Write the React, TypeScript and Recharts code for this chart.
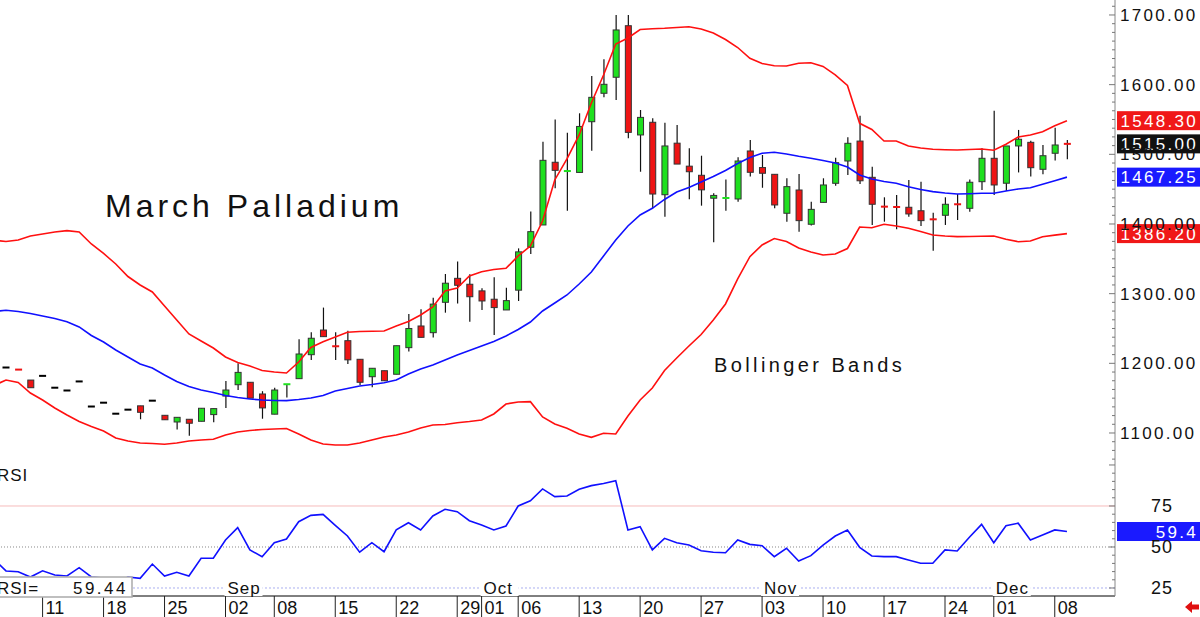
import React from "react";
import {
  Bar,
  ComposedChart,
  Line,
  ReferenceDot,
  ReferenceLine,
  Scatter,
  XAxis,
  YAxis,
} from "recharts";

// daily bars, 6 Aug .. 9 Dec
const opens = [
  1194, 1191.3, 1176, 1182, 1165, 1161, 1174, 1138, 1143.5, 1127.7,
  1133.5, 1139, 1146.4, 1125.4, 1115.8, 1119.7, 1116.8, 1126.4, 1153, 1169.3,
  1172.8, 1156, 1127, 1169.5, 1178, 1212.4, 1247.8, 1225, 1232.5, 1205.8,
  1180.8, 1189.4, 1184.3, 1222.5, 1253.6, 1244, 1287.6, 1322, 1313.5, 1304,
  1292, 1276.6, 1305, 1366.6, 1398.6, 1488.6, 1475.5, 1474, 1546.8, 1587.6,
  1610.6, 1684.6, 1527.8, 1546, 1442, 1516, 1483, 1469.9, 1437, 1437,
  1435.9, 1504.8, 1481, 1471.3, 1415.4, 1448.8, 1399.6, 1431, 1458.4, 1490.4,
  1519, 1467, 1425.3, 1424.8, 1424, 1419, 1407, 1412.5, 1428.6, 1422.5,
  1460.7, 1494.3, 1458.5, 1512, 1517.2, 1478.5, 1501.5, 1515.3,
];
const highs = [
  1194, 1191.3, 1176, 1182, 1165, 1161, 1174, 1138, 1143.5, 1127.7,
  1133.5, 1139, 1146.4, 1125.4, 1122.5, 1119.7, 1135.5, 1135, 1174.6, 1200,
  1172.8, 1160, 1165, 1170, 1234.5, 1244.6, 1280, 1244.6, 1246.8, 1205.8,
  1192.9, 1189.4, 1225.3, 1270.8, 1277.5, 1294, 1328.2, 1346, 1328, 1307.7,
  1323.5, 1308.6, 1365, 1418, 1518, 1550, 1531, 1558.9, 1612.4, 1636.4,
  1700, 1700, 1563.6, 1551.7, 1545.4, 1542, 1508.7, 1498, 1444, 1464,
  1495.7, 1520.6, 1499, 1471.3, 1465.6, 1471.8, 1432, 1465.6, 1495, 1524.4,
  1555.5, 1482.3, 1438.3, 1441.6, 1463, 1460.7, 1416, 1438.3, 1443, 1464,
  1508.7, 1562.6, 1512, 1535, 1519.6, 1513.4, 1538.3, 1520.6,
];
const lows = [
  1194, 1191, 1165, 1182, 1165, 1161, 1174, 1138, 1143.5, 1127.7,
  1133.5, 1119.7, 1146.4, 1119, 1105, 1096, 1116.8, 1115.3, 1136, 1161.7,
  1150, 1120.5, 1127, 1151, 1178, 1204.8, 1238.3, 1204.8, 1199, 1169,
  1165.6, 1175, 1184.3, 1217, 1237, 1237, 1272.7, 1286, 1259.8, 1276.7,
  1240.7, 1276.6, 1289.5, 1357, 1398.6, 1451.2, 1419, 1474, 1505, 1582,
  1578, 1523, 1475, 1422.5, 1410.5, 1486, 1435.4, 1426.3, 1373.7, 1419,
  1432, 1468, 1452, 1422.5, 1403.3, 1389, 1398, 1431, 1455, 1470.3,
  1457.4, 1398.6, 1403.3, 1392.4, 1410.5, 1397, 1361.7, 1398.6, 1405.8, 1417.6,
  1448.8, 1441.6, 1447.4, 1474, 1468, 1471.3, 1491, 1493,
];
const closes = [
  1194, 1191, 1165, 1182, 1165, 1161, 1174, 1138, 1143.5, 1127.7,
  1133.5, 1129.7, 1146.4, 1119, 1122.5, 1114, 1135.5, 1135, 1161.7, 1187,
  1150, 1136, 1161.7, 1170, 1213.4, 1236, 1238.3, 1224.5, 1205, 1172.8,
  1192.9, 1175, 1225.3, 1250, 1237.3, 1285, 1315, 1312, 1295.6, 1289.5,
  1280, 1290, 1360, 1389, 1491.4, 1477, 1476, 1540, 1581.8, 1600.5,
  1678.5, 1531.5, 1553, 1443, 1512, 1486, 1475, 1449, 1441, 1437.3,
  1490.4, 1474.2, 1472.8, 1427.3, 1453.6, 1404.8, 1421, 1456, 1488, 1515.8,
  1462, 1428.3, 1424.9, 1424.4, 1414.4, 1404.8, 1406.7, 1428.3, 1428.3, 1459.9,
  1494.3, 1456, 1512, 1521.6, 1480.8, 1498, 1513.4, 1515,
];

// indicator values start one session earlier (5 Aug), whose bar sits off the left edge
const upperBand = [
  1376.5,
  1374.9, 1377, 1382.8, 1385.6, 1388.5, 1390.4, 1388.5, 1371.3, 1357.7, 1342.6,
  1324.6, 1312.4, 1302.4, 1282.3, 1262.2, 1242.1, 1232.1, 1222, 1209.1, 1201.2,
  1196.2, 1189.7, 1187.6, 1186.1, 1201.9, 1222.7, 1231, 1237.8, 1244.5, 1245.7,
  1246, 1246.4, 1253.6, 1260, 1269.4, 1280.9, 1303.8, 1308.1, 1325.4, 1331.5,
  1334.7, 1336.4, 1354.1, 1368.4, 1404.3, 1463.2, 1493.3, 1527.8, 1573.7, 1613.9,
  1658.4, 1667, 1679.2, 1680.3, 1680.9, 1682.1, 1683.1, 1679.9, 1674.2, 1664.8,
  1653.3, 1637.8, 1630.4, 1627.1, 1626.8, 1630.7, 1631.5, 1626.1, 1613.9, 1598.8,
  1544.5, 1535.6, 1519.1, 1519.1, 1512, 1509.1, 1507.2, 1506.6, 1506.2, 1506.9,
  1507.7, 1505.8, 1514.4, 1524.9, 1527.8, 1532.3, 1541, 1548.3,
];
const midBand = [
  1274.5,
  1276.1, 1274.4, 1271.5, 1267.9, 1264.4, 1259.8, 1252.2, 1240, 1230.6, 1219.1,
  1209.1, 1199, 1193.3, 1183.3, 1173.9, 1166.7, 1161.7, 1158.1, 1153.8, 1151,
  1148.8, 1147.4, 1146.7, 1146.4, 1148.1, 1150.2, 1153.8, 1160.3, 1163.9, 1167.5,
  1169.6, 1172.2, 1176.1, 1184.7, 1191.9, 1197.6, 1204.8, 1212, 1218.4, 1224.9,
  1231.3, 1239.2, 1248.6, 1259.3, 1275.1, 1286.6, 1298.1, 1313.9, 1331.1, 1354.1,
  1377, 1397.1, 1412.9, 1422.5, 1435.2, 1445.9, 1452.4, 1460.3, 1468.2, 1476.8,
  1486.8, 1495.5, 1501.5, 1502.9, 1500.5, 1497.2, 1494.3, 1491.1, 1487.6, 1481.8,
  1470.3, 1464.6, 1461, 1458.4, 1453.5, 1449.5, 1446.4, 1444.5, 1443.1, 1443.5,
  1444.1, 1444.1, 1447.4, 1450.2, 1452.1, 1457, 1462, 1467.25,
];
const lowerBand = [
  1168,
  1176.1, 1172.5, 1157.4, 1147.4, 1135.9, 1125.8, 1116.5, 1109.3, 1102.9, 1092.8,
  1088.5, 1085.6, 1084.9, 1083.8, 1085.6, 1088.5, 1090, 1091, 1097.1, 1101.4,
  1103.6, 1105, 1105.7, 1106.5, 1098.6, 1090, 1084.2, 1082.8, 1082.8, 1085.6,
  1090, 1094.3, 1097.1, 1101.4, 1107.2, 1111.5, 1112.2, 1114.8, 1116.5, 1118.7,
  1127.3, 1141.6, 1144.5, 1145, 1123, 1112.9, 1106.7, 1098.6, 1093.8, 1099.6,
  1098.6, 1124.4, 1147.4, 1164.6, 1189.7, 1207.7, 1224.9, 1241.4, 1262.2, 1285.2,
  1321.1, 1353.1, 1369.9, 1379.2, 1374.9, 1365.6, 1359.8, 1355.5, 1356.9, 1364.8,
  1395.7, 1394.7, 1399.6, 1397.1, 1393.8, 1389.2, 1384.2, 1382.8, 1381.8, 1382.1,
  1382.5, 1382.8, 1378, 1374.6, 1375.6, 1381.8, 1384, 1386.2,
];
const rsiValues = [
  42.5,
  35.4, 34.9, 31.7, 35.5, 32.9, 32.3, 37.4, 31.7, 31.1, 28,
  31.7, 30.9, 39.6, 32.3, 34.6, 32.3, 43.1, 43.1, 54.3, 61.8,
  48.2, 44.1, 52.6, 54.9, 65.4, 69.3, 69.9, 63.2, 56.7, 46.8,
  52.6, 47.1, 60.4, 64.8, 60.4, 68.9, 73, 71.5, 66, 63.4,
  60.4, 62.8, 75, 78.2, 85.4, 80.7, 81.1, 85.2, 87.4, 88.7,
  90.4, 60.4, 62.4, 48.2, 55.3, 52.6, 51.2, 47.7, 46.8, 46.5,
  54.3, 51.6, 50.8, 44.1, 49.2, 41.5, 44.7, 51.2, 56.7, 60.4,
  49.8, 44.5, 44.1, 44.1, 42.1, 40.1, 40.1, 48.2, 47.6, 55.9,
  63.8, 52.6, 63, 64.5, 54.3, 57.3, 60.4, 59.44,
];

const weekTickIdx = [3, 8, 13, 18, 22, 27, 32, 37, 39, 42, 47, 52, 57, 62, 67, 72, 77, 81, 86];
const weekTickLabels = ["11", "18", "25", "02", "08", "15", "22", "29", "01", "06", "13", "20", "27", "03", "10", "17", "24", "01", "08"];
const monthIdx = [18, 39, 62, 81];
const monthLabels = ["Sep", "Oct", "Nov", "Dec"];
const priceLabels = [1100, 1200, 1300, 1400, 1500, 1600, 1700];
const rsiLabels = [25, 50, 75];

const rows = upperBand.map((up, k) => {
  const j = k - 1;
  return {
    i: j,
    o: opens[j],
    h: highs[j],
    l: lows[j],
    c: closes[j],
    up,
    mid: midBand[k],
    dn: lowerBand[k],
    rsi: rsiValues[k],
  };
});
const flats = rows.filter((r) => r.h != null && r.h === r.l);
const last = rows[rows.length - 1];

const X_DOMAIN: [number, number] = [-0.492, 90.94];
const GREEN = "#1fe01f";
const RED = "#ee1414";
const FONT = "'Liberation Sans', Arial, sans-serif";

// minor ticks every 12.5 on the price axis, every 5 on the RSI axis
const priceTicks = Array.from({ length: 53 }, (_, k) => 1062.5 + k * 12.5);
const rsiTicks = Array.from({ length: 17 }, (_, k) => 20 + k * 5).filter((v) => v > 20.2);

function tone(o: number, c: number) {
  if (c > o) return GREEN;
  if (c < o) return RED;
  return "#000";
}

function Candle(props: any) {
  const { x, y, width, height, payload } = props;
  if (x == null || !payload || payload.h == null) return null;
  const top = Math.min(y, y + height);
  const bottom = Math.max(y, y + height);
  const span = payload.h - payload.l;
  const at = (v: number) => top + ((payload.h - v) / span) * (bottom - top);
  const cx = x + width / 2;
  const yo = at(payload.o);
  const yc = at(payload.c);
  const color = tone(payload.o, payload.c);
  const bodyTop = Math.min(yo, yc);
  const bodyH = Math.abs(yo - yc);
  return (
    <g>
      <line x1={cx} x2={cx} y1={top} y2={bottom} stroke="#111" strokeWidth={1.2} />
      {bodyH < 2 ? (
        <rect x={x} y={yc - 1} width={width} height={2} fill={color} />
      ) : (
        <rect x={x + 0.5} y={bodyTop} width={width - 1} height={bodyH} fill={color} stroke="#333" />
      )}
    </g>
  );
}

function Flat(props: any) {
  const { cx, cy, payload } = props;
  if (cx == null || cy == null) return null;
  return <rect x={cx - 3.5} y={cy - 1} width={7} height={2} fill={tone(payload.o, payload.c)} />;
}

function PriceTick(props: any) {
  const { x, y, payload } = props;
  const v = payload.value;
  const major = v % 100 === 0;
  return (
    <g>
      <line x1={x - (major ? 6 : 3)} x2={x} y1={y} y2={y} stroke="#777" />
      {major && priceLabels.includes(v) && (
        <text x={x + 5} y={y + 6} fontSize={17} letterSpacing={2.3} fill="#111" fontFamily={FONT}>
          {v.toFixed(2)}
        </text>
      )}
    </g>
  );
}

function RsiTick(props: any) {
  const { x, y, payload } = props;
  const v = payload.value;
  return (
    <g>
      <line x1={x - (v % 25 === 0 ? 6 : 3)} x2={x} y1={y} y2={y} stroke="#777" />
      {rsiLabels.includes(v) && (
        <text x={x + 36} y={y + 6} fontSize={18} letterSpacing={1} fill="#111" fontFamily={FONT}>
          {v}
        </text>
      )}
    </g>
  );
}

function DateTick(props: any) {
  const { x, y, payload } = props;
  const k = weekTickIdx.indexOf(payload.value);
  return (
    <g>
      <line x1={x} x2={x} y1={y} y2={y + 21} stroke="#222" />
      <text x={x + 3} y={y + 18} fontSize={18} fill="#111" fontFamily={FONT}>
        {weekTickLabels[k]}
      </text>
    </g>
  );
}

function ValueBox(props: any) {
  const { viewBox, fill, text } = props;
  if (!viewBox) return null;
  const bx = viewBox.x + viewBox.width + 2;
  return (
    <g>
      <rect x={bx} y={viewBox.y - 9.5} width={85} height={19} fill={fill} />
      <text
        x={1198}
        y={viewBox.y + 6}
        textAnchor="end"
        fontSize={17}
        letterSpacing={2.3}
        fill="#fff"
        fontFamily={FONT}
      >
        {text}
      </text>
    </g>
  );
}

function MonthLabel(props: any) {
  const { cx, cy, label } = props;
  if (cx == null) return null;
  return (
    <g>
      <rect x={cx - 1} y={cy - 8} width={38} height={16} fill="#fff" />
      <text x={cx + 2} y={cy + 6} fontSize={17} letterSpacing={1} fill="#111" fontFamily={FONT}>
        {label}
      </text>
    </g>
  );
}

export default function App() {
  return (
    <div
      style={{
        position: "absolute",
        left: 0,
        top: 0,
        width: 1200,
        height: 617,
        background: "#fff",
        overflow: "hidden",
        fontFamily: FONT,
      }}
    >
      <div style={{ position: "absolute", left: 0, top: 0 }}>
        <ComposedChart width={1200} height={466} data={rows} margin={{ top: 0, right: 0, bottom: 2, left: 0 }}>
          <XAxis
            type="number"
            dataKey="i"
            domain={X_DOMAIN}
            allowDataOverflow
            height={0}
            tick={false}
            tickLine={false}
            axisLine={{ stroke: "#000", strokeWidth: 2 }}
          />
          <YAxis
            orientation="right"
            width={85}
            domain={[1055.5, 1721.5]}
            allowDataOverflow
            ticks={priceTicks}
            interval={0}
            tickSize={0}
            tickMargin={0}
            tickLine={false}
            tick={<PriceTick />}
            axisLine={{ stroke: "#888" }}
          />
          <Bar
            dataKey={(d: any) => (d.h != null && d.h > d.l ? [d.l, d.h] : null)}
            barSize={7}
            shape={<Candle />}
            isAnimationActive={false}
          />
          <Scatter data={flats} dataKey="c" shape={<Flat />} isAnimationActive={false} />
          <Line type="linear" dataKey="up" stroke="#ff1010" strokeWidth={1.6} dot={false} activeDot={false} isAnimationActive={false} />
          <Line type="linear" dataKey="mid" stroke="#1010ff" strokeWidth={1.6} dot={false} activeDot={false} isAnimationActive={false} />
          <Line type="linear" dataKey="dn" stroke="#ff1010" strokeWidth={1.6} dot={false} activeDot={false} isAnimationActive={false} />
          <ReferenceLine y={last.up} stroke="none" label={<ValueBox fill="#f01818" text={last.up.toFixed(2)} />} />
          <ReferenceLine y={last.c} stroke="none" label={<ValueBox fill="#111" text={last.c.toFixed(2)} />} />
          <ReferenceLine y={last.mid} stroke="none" label={<ValueBox fill="#1a1aff" text={last.mid.toFixed(2)} />} />
          <ReferenceLine y={last.dn} stroke="none" label={<ValueBox fill="#f01818" text={last.dn.toFixed(2)} />} />
        </ComposedChart>
      </div>

      <div style={{ position: "absolute", left: 0, top: 464 }}>
        <ComposedChart width={1200} height={153} data={rows} margin={{ top: 0, right: 0, bottom: 0, left: 0 }}>
          <XAxis
            type="number"
            dataKey="i"
            domain={X_DOMAIN}
            allowDataOverflow
            height={21}
            ticks={weekTickIdx}
            interval={0}
            tickSize={0}
            tickMargin={0}
            tickLine={false}
            tick={<DateTick />}
            axisLine={{ stroke: "#000" }}
          />
          <YAxis
            orientation="right"
            width={85}
            domain={[20.12, 100.6]}
            allowDataOverflow
            ticks={rsiTicks}
            interval={0}
            tickSize={0}
            tickMargin={0}
            tickLine={false}
            tick={<RsiTick />}
            axisLine={{ stroke: "#888" }}
          />
          <ReferenceLine y={75} stroke="#f6bcbc" />
          <ReferenceLine y={50} stroke="#888" strokeDasharray="1 2" />
          <ReferenceLine y={25} stroke="#aab0f0" strokeDasharray="2 2" />
          {monthIdx.map((m, k) => (
            <ReferenceDot key={m} x={m} y={25} r={0} shape={<MonthLabel label={monthLabels[k]} />} />
          ))}
          <Line type="linear" dataKey="rsi" stroke="#1010ff" strokeWidth={1.6} dot={false} activeDot={false} isAnimationActive={false} />
          <ReferenceLine
            y={last.rsi}
            stroke="none"
            label={<ValueBox fill="#1a1aff" text={last.rsi.toFixed(1)} />}
          />
        </ComposedChart>
      </div>

      <svg
        width={1200}
        height={617}
        style={{ position: "absolute", left: 0, top: 0, pointerEvents: "none" }}
      >
        <text x={105} y={217} fontSize={32} letterSpacing={4} fill="#111" fontFamily={FONT}>
          March Palladium
        </text>
        <text x={714} y={372} fontSize={20} letterSpacing={3.4} fill="#111" fontFamily={FONT}>
          Bollinger Bands
        </text>
        <text x={-3} y={481} fontSize={17} letterSpacing={1} fill="#111" fontFamily={FONT}>
          RSI
        </text>
        <rect x={-2} y={577} width={134} height={20} fill="#fff" stroke="#aaa" strokeWidth={1.5} />
        <text x={-3} y={594} fontSize={17} letterSpacing={1} fill="#111" fontFamily={FONT}>
          RSI=
        </text>
        <text x={128} y={594} textAnchor="end" fontSize={17} letterSpacing={2.5} fill="#111" fontFamily={FONT}>
          {last.rsi.toFixed(2)}
        </text>
        <polygon
          points="1185,607 1192,601 1192,604.5 1199,604.5 1199,609.5 1192,609.5 1192,613"
          fill="#e01010"
        />
      </svg>
    </div>
  );
}
